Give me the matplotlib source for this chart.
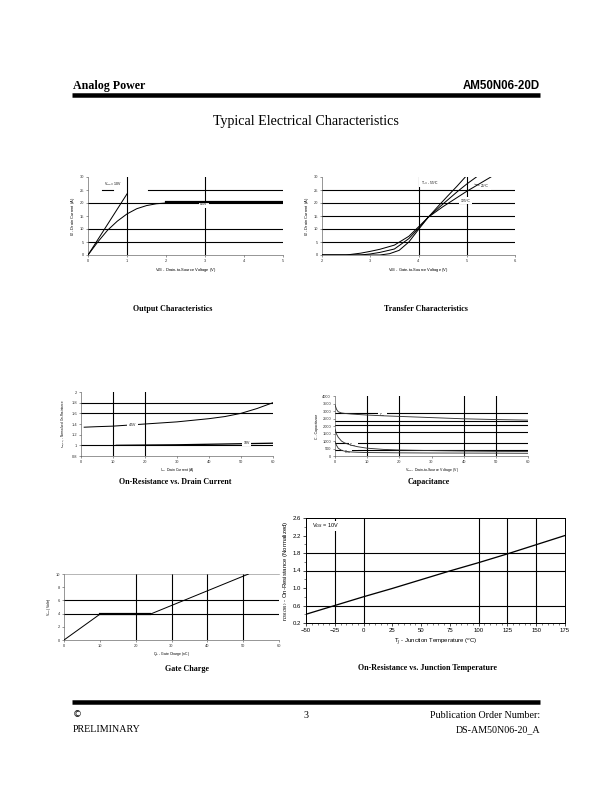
import numpy as np
import matplotlib
matplotlib.use("Agg")
import matplotlib.pyplot as plt

plt.rcParams['font.family'] = ['Liberation Sans', 'DejaVu Sans']

# ---- data ----
# Output characteristics
out_vds_10v = [0, 1.0]
out_id_10v = [0, 23.5]
out_vds_45v = [0, 0.25, 0.5, 0.75, 1.0, 1.25, 1.5, 1.75, 2.0, 2.5, 3, 4, 5]
out_id_45v = [0, 5, 9.5, 13, 15.8, 17.8, 19, 19.7, 20, 20.2, 20.2, 20.2, 20.2]

# Transfer characteristics
tr_vgs_m55 = [2.0, 3.2, 3.4, 3.6, 3.8, 4.0, 4.2, 4.4, 4.6, 4.8, 4.97]
tr_id_m55 = [0, 0, 0.5, 1.8, 5.0, 9.8, 14.5, 18.6, 22.6, 26.5, 30]
tr_vgs_25 = [2.0, 2.8, 3.0, 3.2, 3.5, 3.8, 4.0, 4.2, 4.5, 4.8, 5.0, 5.2]
tr_id_25 = [0, 0, 0.4, 1.0, 2.3, 6.3, 10.3, 14.5, 19.5, 24.3, 27.3, 30]
tr_vgs_125 = [2.0, 2.5, 2.8, 3.0, 3.2, 3.5, 3.8, 4.0, 4.2, 4.5, 5.0, 5.5]
tr_id_125 = [0, 0, 0.7, 1.4, 2.2, 3.8, 7.2, 10.8, 14.5, 18.5, 24.5, 30]

# On-resistance vs drain current
rd_id_45 = [1, 5, 10, 15, 20, 25, 30, 35, 40, 45, 50, 55, 60]
rd_45 = [1.34, 1.35, 1.36, 1.38, 1.40, 1.42, 1.44, 1.47, 1.50, 1.54, 1.60, 1.69, 1.80]
rd_id_10 = [11, 20, 30, 40, 50, 60]
rd_10 = [1.0, 1.005, 1.01, 1.02, 1.03, 1.04]

# Capacitance
cap_vds = [0, 0.5, 1, 2, 3, 5, 7, 10, 15, 20, 30, 40, 50, 60]
ciss = [3400, 3100, 2950, 2870, 2840, 2800, 2770, 2730, 2680, 2640, 2560, 2480, 2430, 2390]
coss = [1800, 1450, 1250, 1000, 870, 720, 620, 520, 440, 400, 360, 330, 310, 300]
crss = [950, 700, 520, 380, 320, 270, 250, 230, 220, 210, 200, 195, 190, 180]

# Gate charge
gc_qg = [0, 10, 24, 51.5]
gc_vgs = [0, 3.9, 3.9, 10]

# On-resistance vs junction temperature
tj = [-50, -25, 0, 25, 50, 75, 100, 125, 150, 175]
rn_tj = [0.40, 0.60, 0.80, 0.99, 1.19, 1.39, 1.58, 1.78, 1.99, 2.20]

W, H = 612, 792
fig = plt.figure(figsize=(W / 72, H / 72), dpi=72)


def make_ax(left, top, right, bottom):
    return fig.add_axes([left / W, 1 - bottom / H, (right - left) / W, (bottom - top) / H])


def style(ax, fs=4, box=False):
    for s in ['top', 'right']:
        ax.spines[s].set_visible(box)
    for s in ax.spines.values():
        s.set_linewidth(0.6)
        s.set_color('#555555')
    ax.tick_params(labelsize=fs, length=2, width=0.5, pad=2, colors='#333333')


def grid(ax, hs=(), vs=()):
    for y in hs:
        ax.axhline(y, color='black', lw=1.1, zorder=1)
    for x in vs:
        ax.axvline(x, color='black', lw=1.1, zorder=1)


def lab(ax, x, y, s, fs=3.5, pad=1.5):
    ax.text(x, y, s, fontsize=fs, ha='left', va='center', zorder=3,
            bbox=dict(facecolor='white', edgecolor='none', pad=pad))


def rule(y):
    fig.add_artist(plt.Line2D([72 / W, 540 / W], [1 - y / H] * 2, color='black', lw=4.5,
                              solid_capstyle='butt'))


# ---------- page text ----------
fig.text(73 / W, 1 - 86 / H, "Analog Power", family='Liberation Serif', weight='bold',
         fontsize=12, va='center')
fig.text(540 / W, 1 - 86 / H, "AM50N06-20D", weight='bold', fontsize=11.5,
         ha='right', va='center')
rule(95)
fig.text(306 / W, 1 - 121 / H, "Typical Electrical Characteristics", family='Liberation Serif',
         fontsize=14, ha='center', va='center')

rule(702)
fig.text(73 / W, 1 - 715 / H, "©", family='DejaVu Sans', fontsize=9, va='center')
fig.text(73 / W, 1 - 730 / H, "PRELIMINARY", family='Liberation Serif', fontsize=10, va='center')
fig.text(306 / W, 1 - 716 / H, "3", family='Liberation Serif', fontsize=10, ha='center', va='center')
fig.text(540 / W, 1 - 716 / H, "Publication Order Number:", family='Liberation Serif',
         fontsize=10, ha='right', va='center')
fig.text(540 / W, 1 - 730 / H, "DS-AM50N06-20_A", family='Liberation Serif',
         fontsize=10, ha='right', va='center')

titles = [("Output Characteristics", 173, 309), ("Transfer Characteristics", 426, 309),
          ("On-Resistance vs. Drain Current", 175, 482), ("Capacitance", 429, 482),
          ("Gate Charge", 187, 669), ("On-Resistance vs. Junction Temperature", 428, 668)]
for t, x, y in titles:
    fig.text(x / W, 1 - y / H, t, family='Liberation Serif', weight='bold', fontsize=8,
             ha='center', va='center')

# ---------- 1. Output characteristics ----------
ax1 = make_ax(88, 177, 283, 255)
style(ax1)
grid(ax1, hs=[5, 10, 20], vs=[1, 3])
ax1.plot([0.37, 0.64], [25, 25], color='black', lw=1.1, zorder=1)
ax1.plot([1.54, 5], [25, 25], color='black', lw=1.1, zorder=1)
ax1.plot(out_vds_10v, out_id_10v, color='black', lw=1.0, zorder=4)
ax1.plot(out_vds_45v, out_id_45v, color='black', lw=1.0, zorder=4)
ax1.plot([2.0, 5], [20.2, 20.2], color='black', lw=2.2, zorder=4)
ax1.text(0.4, 27.2, "V$_{GS}$ = 10V", fontsize=3.5, va='center', zorder=3)
lab(ax1, 2.88, 19.5, "4.5V")
ax1.set_xlim(0, 5)
ax1.set_ylim(0, 30)
ax1.set_xticks(range(0, 6))
ax1.set_yticks(range(0, 31, 5))
ax1.set_xlabel("V$_{DS}$ - Drain-to-Source Voltage (V)", fontsize=4, labelpad=3)
ax1.set_ylabel("I$_D$ - Drain Current (A)", fontsize=4, labelpad=3)

# ---------- 2. Transfer characteristics ----------
ax2 = make_ax(322, 177, 515, 255)
style(ax2)
grid(ax2, hs=[5, 10, 15, 20, 25], vs=[4, 5])
ax2.plot(tr_vgs_m55, tr_id_m55, color='black', lw=1.0, zorder=4)
ax2.plot(tr_vgs_25, tr_id_25, color='black', lw=1.0, zorder=4)
ax2.plot(tr_vgs_125, tr_id_125, color='black', lw=1.0, zorder=4)
lab(ax2, 4.05, 28, "T$_J$ = -55°C")
lab(ax2, 5.3, 26.5, "25°C")
ax2.annotate("", xy=(5.12, 27.5), xytext=(5.3, 26.6),
             arrowprops=dict(arrowstyle='-', lw=0.5), zorder=4)
lab(ax2, 4.88, 20.8, "125°C")
ax2.set_xlim(2, 6)
ax2.set_ylim(0, 30)
ax2.set_xticks(range(2, 7))
ax2.set_yticks(range(0, 31, 5))
ax2.set_xlabel("V$_{GS}$ - Gate-to-Source Voltage (V)", fontsize=4, labelpad=3)
ax2.set_ylabel("I$_D$ - Drain Current (A)", fontsize=4, labelpad=3)

# ---------- 3. On-resistance vs drain current ----------
ax3 = make_ax(81, 392, 273, 456)
style(ax3)
grid(ax3, hs=[1.0, 1.6, 1.8], vs=[10, 20])
ax3.plot(rd_id_45, rd_45, color='black', lw=1.0, zorder=2)
ax3.plot(rd_id_10, rd_10, color='black', lw=1.3, zorder=2)
lab(ax3, 15, 1.38, "4.5V")
lab(ax3, 50.8, 1.05, "10V")
ax3.set_xlim(0, 60)
ax3.set_ylim(0.8, 2.0)
ax3.set_xticks(range(0, 61, 10))
ax3.set_yticks([0.8, 1, 1.2, 1.4, 1.6, 1.8, 2])
ax3.set_yticklabels(['0.8', '1', '1.2', '1.4', '1.6', '1.8', '2'])
ax3.set_xlabel("I$_D$ - Drain Current (A)", fontsize=3.5, labelpad=2)
ax3.set_ylabel("r$_{DS(on)}$ - Normalized On-Resistance", fontsize=3, labelpad=3)

# ---------- 4. Capacitance ----------
ax4 = make_ax(335, 396, 528, 456)
style(ax4)
grid(ax4, hs=[376, 840, 1570, 2055, 2365, 2873], vs=[10, 20, 40, 50])
ax4.plot(cap_vds, ciss, color='#333333', lw=0.9, zorder=4)
ax4.plot(cap_vds, coss, color='#333333', lw=0.9, zorder=4)
ax4.plot(cap_vds, crss, color='#333333', lw=0.9, zorder=4)
lab(ax4, 13.7, 2720, "C$_{iss}$", fs=3, pad=1)
lab(ax4, 4.5, 720, "C$_{oss}$", fs=3, pad=0.8)
lab(ax4, 2.8, 280, "C$_{rss}$", fs=3, pad=0.8)
ax4.set_xlim(0, 60)
ax4.set_ylim(0, 4000)
ax4.set_xticks(range(0, 61, 10))
ax4.set_yticks(range(0, 4001, 500))
ax4.set_xlabel("V$_{DS}$ - Drain-to-Source Voltage (V)", fontsize=3.5, labelpad=2)
ax4.set_ylabel("C - Capacitance", fontsize=3.5, labelpad=3)

# ---------- 5. Gate charge ----------
ax5 = make_ax(64, 574, 279, 640)
style(ax5, box=True)
ax5.spines['right'].set_visible(False)
ax5.spines['top'].set_color('#888888')
grid(ax5, hs=[4, 6], vs=[20, 30, 40, 50])
ax5.plot(gc_qg, gc_vgs, color='black', lw=1.0, zorder=4)
ax5.plot(gc_qg[1:3], gc_vgs[1:3], color='black', lw=2.2, zorder=4)
ax5.set_xlim(0, 60)
ax5.set_ylim(0, 10)
ax5.set_xticks(range(0, 61, 10))
ax5.set_yticks(range(0, 11, 2))
ax5.set_xlabel("Q$_g$ - Gate Charge (nC)", fontsize=3.5, labelpad=2)
ax5.set_ylabel("V$_{GS}$ (Volts)", fontsize=3.5, labelpad=3)

# ---------- 6. On-resistance vs junction temperature ----------
ax6 = make_ax(306, 518, 565, 623)
style(ax6, fs=6, box=True)
for s in ax6.spines.values():
    s.set_color('black')
    s.set_linewidth(1.0)
grid(ax6, hs=[0.6, 1.4, 1.8], vs=[-25, 0, 100, 125, 150])
ax6.plot(tj, rn_tj, color='black', lw=1.3, zorder=4)
lab(ax6, -45, 2.42, "V$_{GS}$ = 10V", fs=5.5, pad=0.8)
ax6.set_xlim(-50, 175)
ax6.set_ylim(0.2, 2.6)
ax6.set_xticks(range(-50, 176, 25))
ax6.set_xticks(range(-50, 176, 5), minor=True)
ax6.set_yticks([0.2, 0.6, 1, 1.4, 1.8, 2.2, 2.6])
ax6.set_yticks(np.arange(0.2, 2.61, 0.2), minor=True)
ax6.tick_params(which='minor', length=2, width=0.5)
ax6.tick_params(which='major', length=3, width=0.7, colors='black')
ax6.set_xlabel("T$_J$ - Junction Temperature ($^o$C)", fontsize=6, labelpad=4)
ax6.set_ylabel("r$_{DS(ON)}$ - On-Resistance (Normalized)", fontsize=6, labelpad=3)

fig.savefig("out.png", dpi=72)
